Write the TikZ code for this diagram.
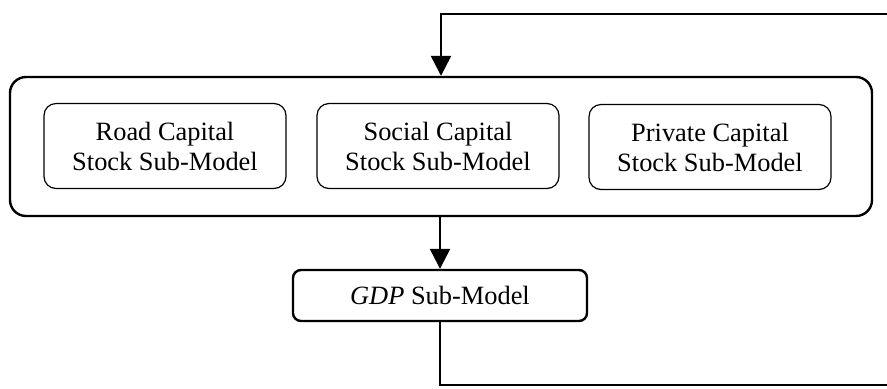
\documentclass[tikz,border=0pt]{standalone}
\usepackage{fontspec}
\setmainfont{Liberation Serif}
\usepackage{tikz}
\usetikzlibrary{arrows.meta,positioning}
\tikzset{
  submodel/.style={draw=black, line width=0.6pt, rounded corners=6pt, align=center, minimum width=121pt, minimum height=42.5pt, inner sep=2pt, font=\fontsize{13.2}{15}\selectfont},
  groupbox/.style={draw=black, line width=1.2pt, rounded corners=8pt, minimum width=431pt, minimum height=69.5pt},
  gdpbox/.style={draw=black, line width=1.2pt, rounded corners=4pt, align=center, minimum width=147pt, minimum height=25.5pt, font=\fontsize{13.2}{15}\selectfont},
  flow/.style={black, line width=1.2pt, -{Triangle[width=10pt,length=10pt]}}
}
\begin{document}
\begin{tikzpicture}[x=0.5pt,y=0.5pt]
  \useasboundingbox (0,0) rectangle (887,388);
  \node[groupbox] (group) at (441,241.5) {};
  \node[submodel] (road) at (165,242) {Road Capital\\Stock Sub-Model};
  \node[submodel] (social) at (438,242) {Social Capital\\Stock Sub-Model};
  \node[submodel] (private) at (710,241) {Private Capital\\Stock Sub-Model};
  \node[gdpbox] (gdp) at (440,92.5) {\textit{GDP} Sub-Model};
  \coordinate (fbbot) at (905,3);
  \coordinate (fbtop) at (905,374);
  \draw[flow] (group.south -| gdp.north) -- (gdp.north);
  \draw[flow] (gdp.south) |- (fbbot) -- (fbtop) -| (group.north);
\end{tikzpicture}
\end{document}
